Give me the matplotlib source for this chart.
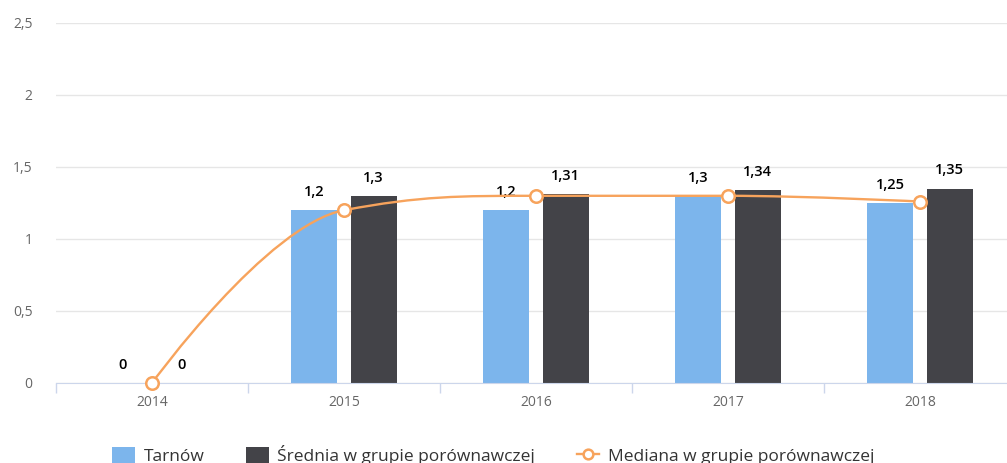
import matplotlib
matplotlib.use("Agg")
import matplotlib.pyplot as plt
from matplotlib.path import Path
from matplotlib.patches import PathPatch, Patch
from matplotlib.lines import Line2D
import numpy as np

plt.rcParams['font.family'] = ['Open Sans', 'DejaVu Sans']

years = ["2014", "2015", "2016", "2017", "2018"]
tarnow = [0, 1.2, 1.2, 1.3, 1.25]
srednia = [0, 1.3, 1.31, 1.34, 1.35]
mediana = [0, 1.2, 1.3, 1.3, 1.26]

C_TARNOW = "#7cb5ec"
C_SREDNIA = "#434348"
C_MEDIANA = "#f7a35c"


def fmt(v):
    s = ("%g" % v).replace(".", ",")
    return s


# highcharts-like spline through the points
def spline_path(xs, ys, smoothing=1.5):
    n = len(xs)
    denom = smoothing + 1
    lc = [None] * n
    rc = [None] * n
    for i in range(1, n - 1):
        x, y = xs[i], ys[i]
        lx, ly = xs[i - 1], ys[i - 1]
        nx, ny = xs[i + 1], ys[i + 1]
        lcx = (smoothing * x + lx) / denom
        lcy = (smoothing * y + ly) / denom
        rcx = (smoothing * x + nx) / denom
        rcy = (smoothing * y + ny) / denom
        corr = 0
        if rcx != lcx:
            corr = (rcy - lcy) * (rcx - x) / (rcx - lcx) + y - rcy
        lcy += corr
        rcy += corr
        if lcy > ly and lcy > y:
            lcy = max(ly, y)
            rcy = 2 * y - lcy
        elif lcy < ly and lcy < y:
            lcy = min(ly, y)
            rcy = 2 * y - lcy
        if rcy > ny and rcy > y:
            rcy = max(ny, y)
            lcy = 2 * y - rcy
        elif rcy < ny and rcy < y:
            rcy = min(ny, y)
            lcy = 2 * y - rcy
        lc[i] = (lcx, lcy)
        rc[i] = (rcx, rcy)
    verts = [(xs[0], ys[0])]
    codes = [Path.MOVETO]
    for i in range(1, n):
        c1 = rc[i - 1] if rc[i - 1] else (xs[i - 1], ys[i - 1])
        c2 = lc[i] if lc[i] else (xs[i], ys[i])
        verts += [c1, c2, (xs[i], ys[i])]
        codes += [Path.CURVE4] * 3
    return Path(verts, codes)


fig = plt.figure(figsize=(10.07, 4.63), dpi=100)
ax = fig.add_axes([56 / 1007, 80 / 463, 960 / 1007, 360 / 463])

x = np.arange(len(years))
bw = 0.24
off = 0.154
ax.bar(x - off, tarnow, width=bw, color=C_TARNOW, zorder=2)
ax.bar(x + off, srednia, width=bw, color=C_SREDNIA, zorder=2)

for xi, v in zip(x, tarnow):
    ax.annotate(fmt(v), (xi - off, v), xytext=(0, 8), textcoords="offset points",
                ha="center", va="bottom", fontsize=10.5, fontweight="semibold", color="black")
for xi, v in zip(x, srednia):
    ax.annotate(fmt(v), (xi + off, v), xytext=(0, 8), textcoords="offset points",
                ha="center", va="bottom", fontsize=10.5, fontweight="semibold", color="black")

path = spline_path(list(x.astype(float)), mediana)
ax.add_patch(PathPatch(path, facecolor="none", edgecolor=C_MEDIANA, lw=1.7, zorder=3))
ax.plot(x, mediana, linestyle="none", marker="o", markersize=9, markerfacecolor="white",
        markeredgecolor=C_MEDIANA, markeredgewidth=1.8, zorder=4, clip_on=False)

ax.set_xlim(-0.5, 4.5)
ax.set_ylim(0, 2.5)
ax.set_yticks([0, 0.5, 1, 1.5, 2, 2.5])
ax.set_yticklabels(["0", "0,5", "1", "1,5", "2", "2,5"])
ax.grid(axis="y", color="#e6e6e6", lw=1, zorder=0)
ax.set_axisbelow(True)

ax.set_xticks(x)
ax.set_xticklabels(years)
ax.set_xticks(np.arange(-0.5, 5, 1), minor=True)
ax.tick_params(axis="x", which="major", length=0, pad=9, labelsize=10, labelcolor="#666666")
ax.tick_params(axis="x", which="minor", length=7, color="#ccd6eb", width=1)
ax.tick_params(axis="y", length=0, pad=17, labelsize=10, labelcolor="#666666")
for lab in ax.get_yticklabels():
    lab.set_horizontalalignment("right")

for s in ["top", "right", "left"]:
    ax.spines[s].set_visible(False)
ax.spines["bottom"].set_color("#ccd6eb")

handles = [
    Patch(facecolor=C_TARNOW, label="Tarnów"),
    Patch(facecolor=C_SREDNIA, label="Średnia w grupie porównawczej"),
    Line2D([], [], color=C_MEDIANA, lw=1.7, marker="o", markersize=7, markerfacecolor="white",
           markeredgecolor=C_MEDIANA, markeredgewidth=1.8, label="Mediana w grupie porównawczej"),
]
fig.legend(handles=handles, loc="center", bbox_to_anchor=(0.49, 8 / 463), ncol=3, frameon=False,
           fontsize=12.5, handlelength=1.3, handleheight=1.1, columnspacing=2.4, handletextpad=0.5,
           labelcolor="#333333")

fig.savefig("out.png", dpi=100)
